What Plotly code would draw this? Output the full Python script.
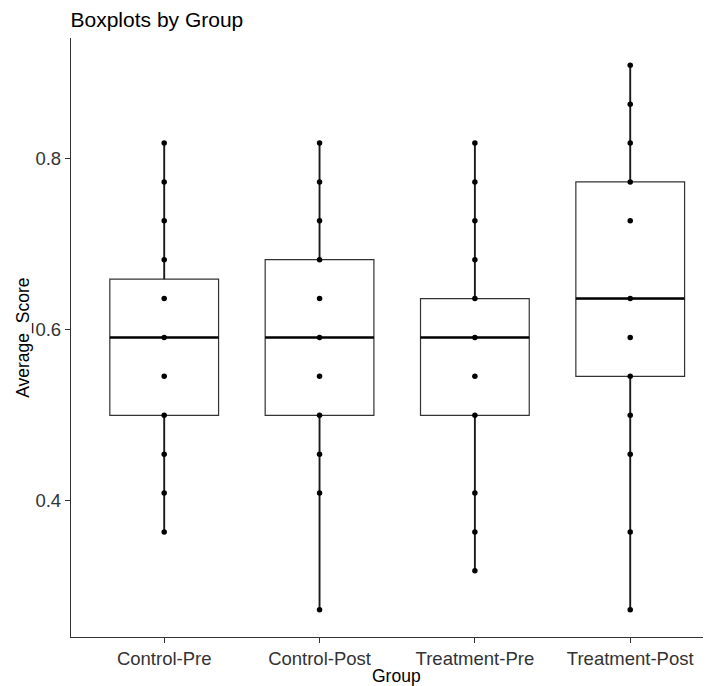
import plotly.graph_objects as go

# ---- data ----
groups = ["Control-Pre", "Control-Post", "Treatment-Pre", "Treatment-Post"]

control_pre = [0.8182, 0.7727, 0.7273, 0.6818, 0.6364, 0.5909, 0.5455, 0.5000, 0.4545, 0.4091, 0.3636]
control_post = [0.8182, 0.7727, 0.7273, 0.6818, 0.6364, 0.5909, 0.5455, 0.5000, 0.4545, 0.4091, 0.2727]
treatment_pre = [0.8182, 0.7727, 0.7273, 0.6818, 0.6364, 0.5909, 0.5455, 0.5000, 0.4091, 0.3636, 0.3182]
treatment_post = [0.9091, 0.8636, 0.8182, 0.7727, 0.7273, 0.6364, 0.5909, 0.5455, 0.5000, 0.4545, 0.3636, 0.2727]
points = [control_pre, control_post, treatment_pre, treatment_post]

q1 = [0.5000, 0.5000, 0.5000, 0.5455]
median = [0.5909, 0.5909, 0.5909, 0.6364]
q3 = [0.6591, 0.6818, 0.6364, 0.7727]
lower_whisker = [0.3636, 0.2727, 0.3182, 0.2727]
upper_whisker = [0.8182, 0.8182, 0.8182, 0.9091]

y_ticks = [0.4, 0.6, 0.8]

# ---- layout helpers ----
xpos = list(range(1, len(groups) + 1))
box_w = 0.7
all_vals = [v for g in points for v in g]
lo, hi = min(all_vals), max(all_vals)
pad = (hi - lo) * 0.05

fig = go.Figure()

# whiskers (drawn as lines from box edges to the extremes)
wx, wy = [], []
for x, a, b, c, d in zip(xpos, lower_whisker, q1, q3, upper_whisker):
    wx += [x, x, None, x, x, None]
    wy += [a, b, None, c, d, None]
fig.add_trace(go.Scatter(x=wx, y=wy, mode="lines",
                         line=dict(color="#1a1a1a", width=1.9),
                         hoverinfo="skip", showlegend=False))

# boxes
fig.add_trace(go.Box(
    x=xpos, q1=q1, median=median, q3=q3,
    lowerfence=q1, upperfence=q3,
    width=box_w, whiskerwidth=0,
    fillcolor="rgba(255,255,255,0)", line=dict(color="#333333", width=1.2),
    boxpoints=False, hoverinfo="skip", showlegend=False,
))

# thick median lines (ggplot style)
mx, my = [], []
for x, m in zip(xpos, median):
    mx += [x - box_w / 2, x + box_w / 2, None]
    my += [m, m, None]
fig.add_trace(go.Scatter(x=mx, y=my, mode="lines",
                         line=dict(color="black", width=2.6),
                         hoverinfo="skip", showlegend=False))

# points
px, py = [], []
for x, vals in zip(xpos, points):
    px += [x] * len(vals)
    py += vals
fig.add_trace(go.Scatter(x=px, y=py, mode="markers",
                         marker=dict(color="black", size=5.5),
                         hoverinfo="skip", showlegend=False))

tick_font = dict(family="Liberation Sans, Arial, sans-serif", size=18.5, color="#333333")

# page body adds an 8px offset; figure is sized to fill the rest of the window
W, H = 703, 678
fig.update_layout(
    width=W, height=H,
    margin=dict(l=63, r=0, t=30, b=49),
    paper_bgcolor="white", plot_bgcolor="white",
    font=dict(family="Liberation Sans, Arial, sans-serif", color="black"),
    title=dict(text="Boxplots by Group", x=62.5 / W, xanchor="left", xref="container",
               y=1 - 11.5 / H, yanchor="middle", yref="container",
               font=dict(size=21, color="black")),
    xaxis=dict(range=[0.4, 4.52], tickvals=xpos, ticktext=groups,
               showgrid=False, zeroline=False, showline=True,
               linecolor="#333333", linewidth=1.3,
               ticks="outside", ticklen=5, tickcolor="#333333", tickwidth=1.3,
               tickfont=tick_font),
    yaxis=dict(range=[lo - pad, hi + pad], tickvals=y_ticks,
               ticktext=[f"{t:.1f}" for t in y_ticks],
               showgrid=False, zeroline=False, showline=True,
               linecolor="#333333", linewidth=1.3,
               ticks="outside", ticklen=5, tickcolor="#333333", tickwidth=1.3,
               tickfont=tick_font),
    annotations=[
        dict(text="Group", xref="paper", yref="paper", x=0.5085, y=-0.0645,
             xanchor="center", yanchor="middle", showarrow=False,
             font=dict(size=17.5, color="black")),
        dict(text="Average_Score", xref="paper", yref="paper", x=-0.0745, y=0.5,
             xanchor="center", yanchor="middle", textangle=-90, showarrow=False,
             font=dict(size=17.5, color="black")),
    ],
)

fig.write_html("out.html")
